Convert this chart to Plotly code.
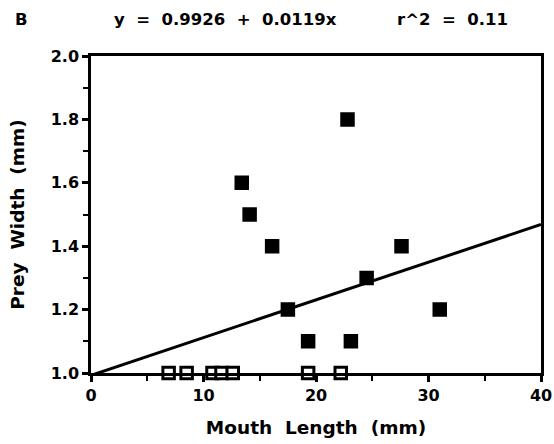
import plotly.graph_objects as go

# Mouth length (mm) vs. prey width (mm)
mouth_length = [6.9, 8.5, 10.8, 11.6, 12.6, 19.3, 22.2,
                13.4, 14.1, 16.1, 17.5, 19.3, 22.8, 23.1, 24.5, 27.6, 31.0]
prey_width = [1.0, 1.0, 1.0, 1.0, 1.0, 1.0, 1.0,
              1.6, 1.5, 1.4, 1.2, 1.1, 1.8, 1.1, 1.3, 1.4, 1.2]

# Least-squares fit reported above the panel
intercept = 0.9926
slope = 0.0119
r_squared = 0.11
fit_x = [0, 40]
fit_y = [intercept + slope * x for x in fit_x]

x_ticks = [0, 10, 20, 30, 40]
y_ticks = [1.0, 1.2, 1.4, 1.6, 1.8, 2.0]

FONT = "DejaVu Sans, Verdana, sans-serif"
NB = "\u00a0"
SP2 = NB * 2

fills = ["white" if w == 1.0 else "black" for w in prey_width]

fig = go.Figure()
fig.add_trace(go.Scatter(
    x=fit_x, y=fit_y, mode="lines",
    line=dict(color="black", width=3),
    hoverinfo="skip", showlegend=False,
))
fig.add_trace(go.Scatter(
    x=mouth_length, y=prey_width, mode="markers",
    marker=dict(symbol="square", size=11.5, color=fills,
                line=dict(color="black", width=3)),
    showlegend=False, cliponaxis=False,
))

axis_common = dict(
    showgrid=False, zeroline=False, automargin=False,
    showline=True, linecolor="black", linewidth=2.5, mirror=True,
    ticks="outside", ticklen=6, tickwidth=2.5, tickcolor="black",
    tickfont=dict(family=FONT, size=16, color="black", weight="bold"),
)

fig.update_xaxes(
    range=[0, 40], tickvals=x_ticks, ticktext=[str(v) for v in x_ticks],
    minor=dict(dtick=5, ticks="outside", ticklen=5, tickwidth=2, tickcolor="black"),
    title=dict(text=f"Mouth{SP2}Length{SP2}(mm)", standoff=18,
               font=dict(family=FONT, size=18.5, color="black", weight="bold")),
    **axis_common,
)
fig.update_yaxes(
    range=[1.0, 2.0], tickvals=y_ticks, ticktext=[f"{v:.1f}" for v in y_ticks],
    minor=dict(dtick=0.1, ticks="outside", ticklen=5, tickwidth=2, tickcolor="black"),
    title=dict(text=f"Prey{SP2}Width{SP2}(mm)", standoff=22,
               font=dict(family=FONT, size=18.5, color="black", weight="bold")),
    **axis_common,
)

title_font = dict(family=FONT, size=16.5, color="black", weight="bold")
fig.add_annotation(
    text="B", xref="paper", yref="paper", x=-0.173, y=1.115,
    xanchor="left", yanchor="middle", showarrow=False, font=title_font,
)
fig.add_annotation(
    text=f"y{SP2}={SP2}{intercept:.4f}{SP2}+{SP2}{slope:.4f}x",
    xref="paper", yref="paper", x=0.046, y=1.115,
    xanchor="left", yanchor="middle", showarrow=False, font=title_font,
)
fig.add_annotation(
    text=f"r^2{SP2}={SP2}{r_squared:.2f}",
    xref="paper", yref="paper", x=0.675, y=1.115,
    xanchor="left", yanchor="middle", showarrow=False, font=title_font,
)

fig.update_layout(
    width=554, height=444,
    margin=dict(l=91, r=13, t=56, b=71),
    paper_bgcolor="white", plot_bgcolor="white",
    font=dict(family=FONT, color="black"),
)

fig.write_html("out.html")
